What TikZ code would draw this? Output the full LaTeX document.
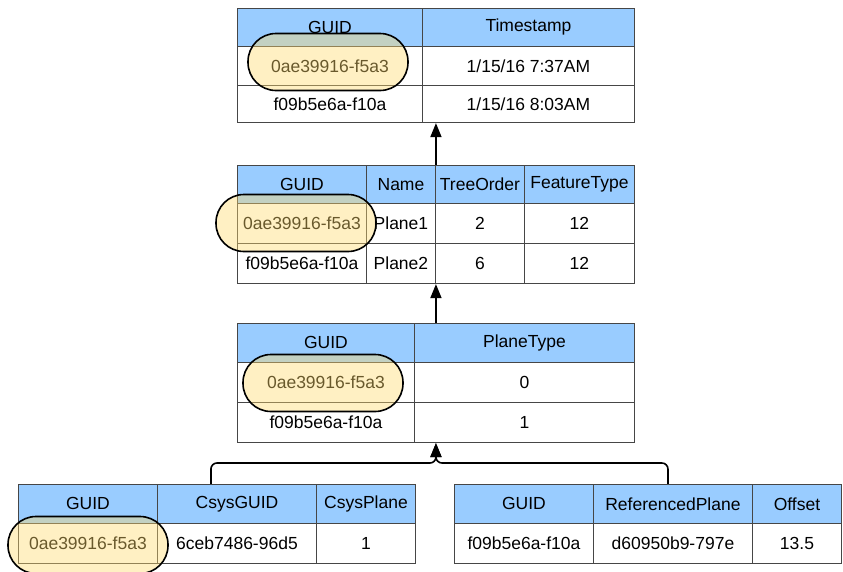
\documentclass[tikz,border=0pt]{standalone}
\usepackage{fontspec}
\setmainfont{Liberation Sans}
\usetikzlibrary{positioning}
\usetikzlibrary{fit,arrows.meta}
\definecolor{headblue}{RGB}{153,204,255}
\definecolor{keyyellow}{RGB}{255,218,109}
\definecolor{gridline}{RGB}{70,70,70}
\tikzset{
    cell/.style={draw=gridline, line width=0.9pt, anchor=north west, inner sep=0pt,
		minimum height=40pt, font=\fontsize{17.5}{20}\selectfont},
    hcell/.style={cell, fill=headblue, minimum height=39pt}
}
\tikzset{
    keyoval/.style={draw=black, line width=1.6pt, fill=keyyellow, fill opacity=0.41,
		rounded corners=28pt, minimum width=160pt, minimum height=57pt},
    frame/.style={fit=#1, inner sep=0pt},
    link/.style={line width=1.6pt, -{Triangle[length=14pt,width=11pt]}}
}

\begin{document}
\begin{tikzpicture}[x=1pt,y=-1pt]
	\clip (0,0) rectangle (843,571);
	% timestamps
	\node[hcell, minimum width=185pt, minimum height=38pt] (tsGuidH) at (237,8) {GUID};
	\node[hcell, minimum width=212pt, minimum height=38pt] (tsTimeH) at (422,8) {Timestamp};
	\node[cell, minimum width=185pt, minimum height=39pt] (tsGuidA) at (237,46) {0ae39916-f5a3};
	\node[cell, minimum width=212pt, minimum height=39pt] (tsTimeA) at (422,46) {1/15/16 7:37AM};
	\node[cell, minimum width=185pt, minimum height=37pt] (tsGuidB) at (237,85) {f09b5e6a-f10a};
	\node[cell, minimum width=212pt, minimum height=37pt] (tsTimeB) at (422,85) {1/15/16 8:03AM};
	\node[frame={(tsGuidH)(tsTimeB)}] (tblTime) {};
	% features
	\node[hcell, minimum width=129pt, minimum height=38pt] (ftGuidH) at (237,165) {GUID};
	\node[hcell, minimum width=69pt, minimum height=38pt] (ftNameH) at (366,165) {Name};
	\node[hcell, minimum width=89pt, minimum height=38pt] (ftOrderH) at (435,165) {TreeOrder};
	\node[hcell, minimum width=110pt, minimum height=38pt] (ftTypeH) at (524,165) {FeatureType};
	\node[cell, minimum width=129pt] (ftGuidA) at (237,203) {0ae39916-f5a3};
	\node[cell, minimum width=69pt] (ftNameA) at (366,203) {Plane1};
	\node[cell, minimum width=89pt] (ftOrderA) at (435,203) {2};
	\node[cell, minimum width=110pt] (ftTypeA) at (524,203) {12};
	\node[cell, minimum width=129pt] (ftGuidB) at (237,243) {f09b5e6a-f10a};
	\node[cell, minimum width=69pt] (ftNameB) at (366,243) {Plane2};
	\node[cell, minimum width=89pt] (ftOrderB) at (435,243) {6};
	\node[cell, minimum width=110pt] (ftTypeB) at (524,243) {12};
	\node[frame={(ftGuidH)(ftTypeB)}] (tblFeat) {};
	% planes
	\node[hcell, minimum width=177pt] (plGuidH) at (237,323) {GUID};
	\node[hcell, minimum width=220pt] (plTypeH) at (414,323) {PlaneType};
	\node[cell, minimum width=177pt] (plGuidA) at (237,362) {0ae39916-f5a3};
	\node[cell, minimum width=220pt] (plTypeA) at (414,362) {0};
	\node[cell, minimum width=177pt] (plGuidB) at (237,402) {f09b5e6a-f10a};
	\node[cell, minimum width=220pt] (plTypeB) at (414,402) {1};
	\node[frame={(plGuidH)(plTypeB)}] (tblPlane) {};
	% csys planes
	\node[hcell, minimum width=139pt] (csGuidH) at (18,484) {GUID};
	\node[hcell, minimum width=159pt] (csSysH) at (157,484) {CsysGUID};
	\node[hcell, minimum width=99pt] (csPlaneH) at (316,484) {CsysPlane};
	\node[cell, minimum width=139pt] (csGuidA) at (18,523) {0ae39916-f5a3};
	\node[cell, minimum width=159pt] (csSysA) at (157,523) {6ceb7486-96d5};
	\node[cell, minimum width=99pt] (csPlaneA) at (316,523) {1};
	\node[frame={(csGuidH)(csPlaneA)}] (tblCsys) {};
	% offset planes
	\node[hcell, minimum width=139pt] (ofGuidH) at (454,484) {GUID};
	\node[hcell, minimum width=159pt] (ofRefH) at (593,484) {ReferencedPlane};
	\node[hcell, minimum width=89pt] (ofOffH) at (752,484) {Offset};
	\node[cell, minimum width=139pt] (ofGuidA) at (454,523) {f09b5e6a-f10a};
	\node[cell, minimum width=159pt] (ofRefA) at (593,523) {d60950b9-797e};
	\node[cell, minimum width=89pt] (ofOffA) at (752,523) {13.5};
	\node[frame={(ofGuidH)(ofOffA)}] (tblOffset) {};
	% links
	\draw[link] (tblFeat.north) -- (tblTime.south);
	\draw[link] (tblPlane.north) -- (tblFeat.south);
	\coordinate (fork) at (tblPlane.south |- 0,463);
	\draw[link, rounded corners=6pt] ([xshift=-6pt]tblCsys.north) |- (fork) -- (tblPlane.south);
	\draw[link, rounded corners=6pt] ([xshift=20pt]tblOffset.north) |- (fork) -- (tblPlane.south);
	% shared key
	\node[keyoval] (keyTime) at (328,62) {};
	\node[keyoval] (keyFeat) at (296,223) {};
	\node[keyoval] (keyPlane) at (323,383) {};
	\node[keyoval] (keyCsys) at (88,545) {};
\end{tikzpicture}
\end{document}
